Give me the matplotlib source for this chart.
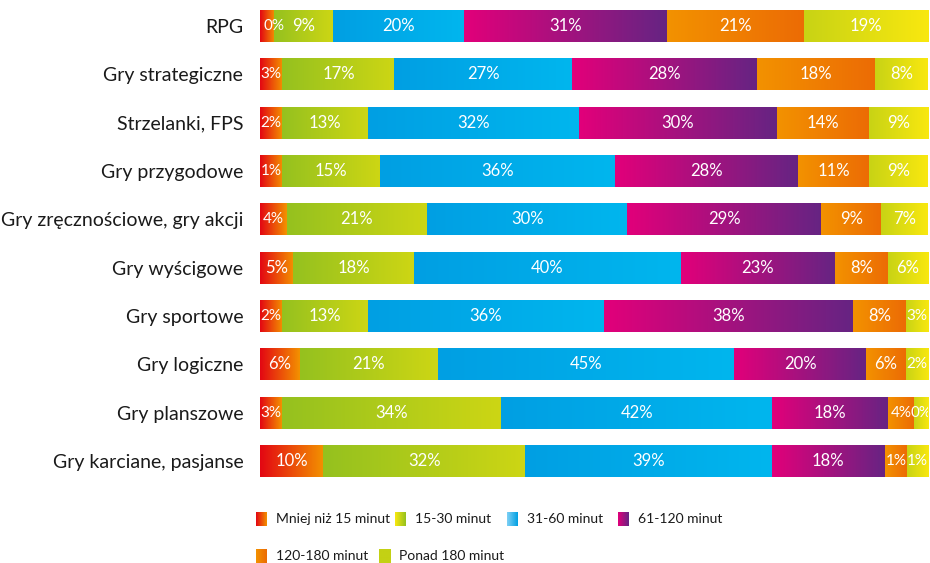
import numpy as np
import matplotlib.pyplot as plt
from matplotlib.colors import LinearSegmentedColormap

plt.rcParams['font.family'] = ['Lato', 'DejaVu Sans']

categories = ["RPG", "Gry strategiczne", "Strzelanki, FPS", "Gry przygodowe",
              "Gry zręcznościowe, gry akcji", "Gry wyścigowe", "Gry sportowe",
              "Gry logiczne", "Gry planszowe", "Gry karciane, pasjanse"]

series = ["Mniej niż 15 minut", "15-30 minut", "31-60 minut",
          "61-120 minut", "120-180 minut", "Ponad 180 minut"]

mniej_15 = [0, 3, 2, 1, 4, 5, 2, 6, 3, 10]
m15_30 = [9, 17, 13, 15, 21, 18, 13, 21, 34, 32]
m31_60 = [20, 27, 32, 36, 30, 40, 36, 45, 42, 39]
m61_120 = [31, 28, 30, 28, 29, 23, 38, 20, 18, 18]
m120_180 = [21, 18, 14, 11, 9, 8, 8, 6, 4, 1]
ponad_180 = [19, 8, 9, 9, 7, 6, 3, 2, 0, 1]

# (lewy, prawy) kolor gradientu dla każdego przedziału
gradients = [("#e30613", "#f39200"),
             ("#95c11f", "#cdd614"),
             ("#009fe3", "#00b6ee"),
             ("#e2007a", "#662483"),
             ("#f39200", "#ec6b05"),
             ("#c8d315", "#f9e80f")]

data = np.array([mniej_15, m15_30, m31_60, m61_120, m120_180, ponad_180], dtype=float)
# małe odcinki dostają minimalną szerokość, żeby zmieścił się podpis
disp = np.where(data > 0, np.maximum(data, 3.4), 2.2)
shares = disp / disp.sum(axis=0) * 100

fig = plt.figure(figsize=(9.3, 5.63), dpi=100)
ax = fig.add_axes([0.2796, 0.138, 0.7184, 0.8588])

y = np.arange(len(categories))
left = np.zeros(len(categories))
bar_h = 0.66

for i, name in enumerate(series):
    bars = ax.barh(y, shares[i], left=left, height=bar_h,
                   facecolor="none", edgecolor="none")
    cmap = LinearSegmentedColormap.from_list(name, gradients[i])
    grad = np.linspace(0, 1, 256).reshape(1, -1)
    for bar, raw in zip(bars, data[i]):
        x0, w = bar.get_x(), bar.get_width()
        y0, h = bar.get_y(), bar.get_height()
        ax.imshow(grad, cmap=cmap, aspect="auto", interpolation="bicubic",
                  extent=[x0, x0 + w, y0 + h, y0], zorder=1)
        if raw == 0 and i == 0:
            # 0% na początku paska - podpis od lewej krawędzi
            xt, ha = x0 + 0.5, "left"
        elif raw == 0:
            # 0% na końcu paska - podpis dosunięty do prawej, lekko ucięty
            xt, ha = x0 + w + 0.5, "right"
        else:
            xt, ha = x0 + w / 2, "center"
        fs = 11 if raw < 5 else 12
        ax.text(xt, y0 + h / 2, f"{int(raw)}%", color="white",
                ha=ha, va="center", fontsize=fs, zorder=3, clip_on=True)
    left += shares[i]

ax.set_xlim(0, 100)
ax.set_ylim(len(categories) - 0.5, -0.5)
ax.set_yticks(y)
ax.set_yticklabels(categories, fontsize=14, color="#1a1a1a")
ax.tick_params(axis="y", length=0, pad=12)
ax.set_xticks([])
for s in ax.spines.values():
    s.set_visible(False)

# legenda rysowana ręcznie (kwadraty z gradientem)
leg = fig.add_axes([0, 0, 1, 1], zorder=-1)
leg.axis("off")
legend_pos = [(256, 519), (395, 519), (507, 519), (618, 519),
              (256, 556), (379, 556)]
legend_cols = [("#e30613", "#f39200"),
               ("#f9e80f", "#95c11f"),
               ("#7fd0f5", "#00a0e3"),
               ("#e2007a", "#662483"),
               ("#f39200", "#ec6b05"),
               ("#c3d114", "#c3d114")]
grad = np.linspace(0, 1, 64).reshape(1, -1)
for (lx, ly), cols, name in zip(legend_pos, legend_cols, series):
    cmap = LinearSegmentedColormap.from_list("l" + name, cols)
    leg.imshow(grad, cmap=cmap, aspect="auto",
               extent=[lx, lx + 11, ly + 7, ly - 7])
    leg.text(lx + 20, ly, name, fontsize=10, va="center", ha="left",
             color="#1a1a1a")
leg.set_xlim(0, 930)
leg.set_ylim(563, 0)

fig.savefig("out.png", dpi=100)
